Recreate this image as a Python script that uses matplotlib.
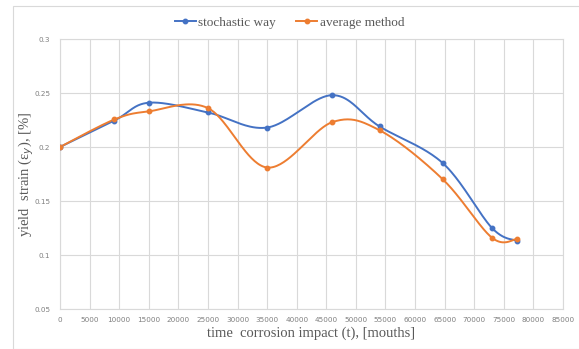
import numpy as np
import matplotlib
matplotlib.use("Agg")
from matplotlib import pyplot as plt
from matplotlib.patches import Rectangle

# data
time_months = [0, 9200, 15000, 25000, 35000, 46000, 54000, 64700, 73000, 77300]
stochastic = [0.200, 0.2245, 0.241, 0.232, 0.218, 0.248, 0.219, 0.185, 0.125, 0.113]
average = [0.200, 0.2255, 0.233, 0.236, 0.181, 0.223, 0.2155, 0.170, 0.116, 0.115]

x_ticks = list(range(0, 85001, 5000))
y_ticks = [0.05, 0.1, 0.15, 0.2, 0.25, 0.3]

BLUE = "#4472C4"
ORANGE = "#ED7D31"


def smooth(xs, ys, sx, sy, n=40):
    # excel-like smoothed line: catmull-rom bezier in (scaled) screen units
    p = np.column_stack([np.asarray(xs) * sx, np.asarray(ys) * sy])
    out = [p[0]]
    t = np.linspace(0, 1, n)[1:, None]
    for i in range(len(p) - 1):
        p0 = p[i - 1] if i > 0 else p[i]
        p3 = p[i + 2] if i + 2 < len(p) else p[i + 1]
        c1 = p[i] + (p[i + 1] - p0) / 6
        c2 = p[i + 1] - (p3 - p[i]) / 6
        seg = ((1 - t) ** 3) * p[i] + 3 * ((1 - t) ** 2) * t * c1 \
            + 3 * (1 - t) * t ** 2 * c2 + t ** 3 * p[i + 1]
        out.extend(seg)
    out = np.array(out)
    return out[:, 0] / sx, out[:, 1] / sy


fig = plt.figure(figsize=(5.79, 3.49), dpi=100)
W, H = 579, 349
fig.patches.append(Rectangle((13 / W, 0), 1, 1 - 6 / H, transform=fig.transFigure,
                             fill=False, edgecolor="#D9D9D9", lw=0.8))
ax = fig.add_axes([60 / W, 1 - 309 / H, (563 - 60) / W, (309 - 39) / H])

sx = 503 / 85000
sy = 270 / 0.25
for vals, col, lab in [(stochastic, BLUE, "stochastic way"), (average, ORANGE, "average method")]:
    xs, ys = smooth(time_months, vals, sx, sy)
    ax.plot(xs, ys, color=col, lw=1.4, zorder=3)
    ax.plot(time_months, vals, "o", color=col, ms=3.2, zorder=4)
    ax.plot([], [], color=col, lw=1.4, marker="o", ms=3.2, label=lab)

ax.set_xlim(0, 85000)
ax.set_ylim(0.05, 0.3)
ax.set_xticks(x_ticks)
ax.set_xticklabels([str(v) for v in x_ticks])
ax.set_yticks(y_ticks)
ax.set_yticklabels(["0.05", "0.1", "0.15", "0.2", "0.25", "0.3"])
ax.grid(True, color="#D9D9D9", lw=0.8)
ax.set_axisbelow(True)
for s in ax.spines.values():
    s.set_color("#D9D9D9")
    s.set_linewidth(0.8)
ax.tick_params(length=0, labelsize=5.2, labelcolor="#7F7F7F")
ax.tick_params(axis="x", pad=6)
ax.tick_params(axis="y", pad=7)

serif = "Liberation Serif"
ax.set_xlabel("time  corrosion impact (t), [mouths]", family=serif, fontsize=10.5,
              color="#595959", labelpad=2)
ax.set_ylabel("yield  strain (\u03b5$_y$), [%]", family=serif, fontsize=10.5,
              color="#595959", va="center")
ax.yaxis.set_label_coords(-34 / 503, 0.5)

fig.legend(loc="upper center", bbox_to_anchor=(0.5, 1 - 5 / H), ncol=2, frameon=False,
           prop={"family": serif, "size": 9.5}, labelcolor="#595959",
           handlelength=1.6, handletextpad=0.2, columnspacing=1.5)

fig.savefig("out.png", dpi=100)
